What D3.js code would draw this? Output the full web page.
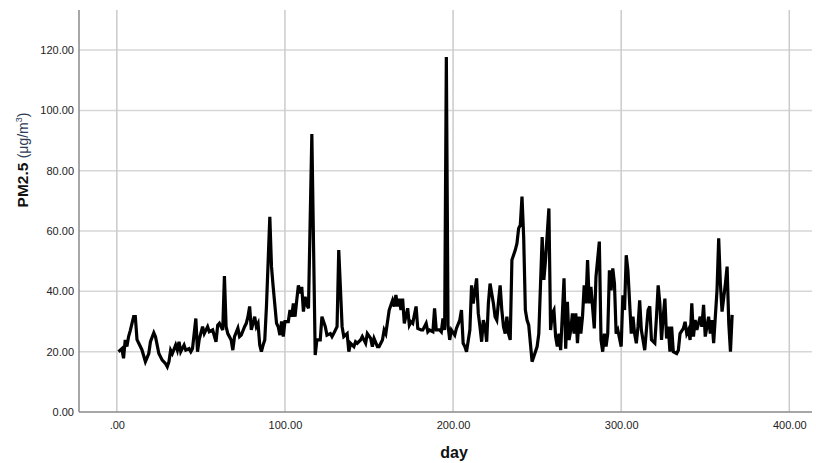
<!DOCTYPE html>
<html>
<head>
<meta charset="utf-8">
<script src="https://cdn.jsdelivr.net/npm/d3@7"></script>
<style>
    body { margin: 0; background: #fff; }
    svg { display: block; font-family: "Liberation Sans", Arial, sans-serif; }
    .grid-lines line { stroke: #d6d6d6; stroke-width: 1.5; }
    .grid-lines-x line { stroke: #cbcbcb; stroke-width: 1.5; }
    .axis path, .axis line { stroke: #8a8a8a; stroke-width: 1.5; }
    .axis text { font-size: 11px; fill: #222; }
    .pm-line { fill: none; stroke: #000; stroke-width: 3.2; stroke-linejoin: miter; }
    .title-text { font-weight: bold; fill: #111; }
</style>
</head>
<body>
<svg id="svg"></svg>
<script>
// values, day -> PM2.5
const days = [
    1, 2, 3, 4, 5, 6, 7, 8, 10, 11, 12, 14, 15, 17, 19, 20, 22, 23, 25, 27,
    29, 30, 31, 32, 33, 35, 36, 37, 38, 40, 41, 43, 44, 45, 47, 48, 49, 51, 52, 54,
    55, 57, 59, 60, 61, 63, 64, 65, 66, 68, 69, 70, 72, 73, 74, 76, 77, 78, 79, 80,
    82, 83, 84, 85, 86, 87, 88, 89, 91, 92, 93, 95, 96, 97, 98, 99, 100, 102, 103, 104,
    105, 106, 107, 108, 109, 110, 111, 112, 113, 114, 116, 118, 119, 121, 122, 124, 125, 127, 128, 129,
    131, 132, 134, 135, 137, 138, 139, 141, 142, 143, 145, 146, 148, 149, 151, 152, 153, 155, 156, 158,
    159, 160, 162, 164, 165, 166, 167, 168, 169, 170, 171, 173, 174, 175, 176, 178, 179, 181, 182, 184,
    185, 186, 188, 189, 190, 192, 193, 194, 195, 196, 197, 198, 199, 201, 202, 204, 205, 206, 207, 208,
    210, 211, 212, 214, 215, 216, 217, 218, 219, 220, 221, 222, 223, 224, 225, 226, 227, 228, 229, 230,
    231, 232, 233, 234, 235, 237, 238, 239, 240, 241, 242, 243, 244, 245, 247, 248, 250, 251, 253, 254,
    255, 257, 258, 259, 260, 261, 262, 263, 264, 266, 267, 268, 269, 270, 271, 272, 273, 274, 275, 276,
    277, 278, 279, 280, 281, 282, 284, 285, 287, 288, 289, 290, 291, 292, 293, 294, 295, 296, 297, 298,
    300, 301, 302, 303, 304, 306, 307, 308, 309, 310, 311, 312, 314, 315, 316, 317, 318, 320, 321, 322,
    323, 324, 325, 326, 327, 328, 329, 330, 331, 333, 334, 335, 337, 338, 339, 340, 341, 342, 343, 344,
    345, 347, 348, 349, 350, 351, 352, 353, 354, 355, 356, 357, 358, 359, 360, 362, 363, 364, 365, 366
];
const pm25 = [
    20, 20.5, 21, 17.8, 23.9, 21.7, 25, 27, 31.6, 31.6, 24, 21.7, 20.5, 16.7, 19.4, 23.3, 26.3, 25, 19.4, 17.2,
    16, 15, 16.7, 20.5, 19.4, 22.2, 20.5, 23.3, 20, 22.2, 20.5, 21, 20, 21, 31, 20, 24, 28.3, 26, 28.3,
    26.6, 27.2, 23.3, 28.8, 29.4, 27.2, 45.1, 28.3, 26, 23.9, 20.5, 25, 27.8, 25, 25.5, 28.3, 29.4, 31.6, 35, 27.2,
    31.6, 28.3, 29.4, 22.2, 20, 22.2, 23.9, 35, 64.7, 48.2, 41.5, 29.4, 28.3, 25.5, 30, 25, 30, 30, 33.8, 31.6,
    36, 31.6, 37, 42, 39.3, 41.5, 33.3, 38.2, 35.5, 34.4, 92.2, 18.9, 23.9, 23.9, 31.6, 28.3, 25.5, 26, 25, 26,
    28.3, 53.7, 28.3, 25, 26, 20, 22.8, 21.7, 23.3, 22.8, 23.9, 25, 22.8, 26, 24.4, 21.7, 24.4, 21.7, 21.7, 23.9,
    27.2, 26, 33.8, 37, 35, 38.8, 35, 37.6, 33.8, 37.6, 29.4, 34.4, 28.8, 29.9, 29.4, 35, 27.7, 27.2, 27.2, 29.4,
    26.6, 27.2, 26.6, 34.4, 27.2, 27.2, 26.6, 31, 27.2, 117.7, 28.8, 23.9, 27.2, 25.5, 27.7, 30.5, 33.8, 22.8, 21.7, 20,
    27.2, 42, 36, 44.3, 32.7, 28.3, 23.3, 30.5, 28.3, 23.3, 36, 42.6, 39.3, 36, 31.6, 30.5, 36.5, 42, 33.8, 28.3,
    26, 31.6, 26, 23.9, 50.4, 53.7, 55.9, 60.9, 62, 71.4, 58, 33.8, 30.5, 28.8, 16.7, 18.3, 21.7, 26, 58, 43.8,
    50.4, 67.5, 27.2, 32.7, 33.8, 25, 21.7, 26, 20.5, 44.3, 21, 36.5, 23.9, 27.2, 32.7, 26, 32.7, 22.8, 31.6, 26,
    31.6, 42, 36, 50.4, 36, 41.5, 27.7, 44.8, 56.5, 23.9, 20, 26, 21.7, 26, 47, 40.3, 47.6, 42.6, 26, 27.2,
    21.7, 38.7, 33.8, 52, 47, 26, 31.6, 26, 22.8, 28.3, 37, 27.2, 20.5, 27.2, 33.8, 35, 23.9, 22.8, 31.6, 42,
    36, 23.9, 31.6, 37.6, 24.4, 28.3, 20, 28.3, 20, 19.4, 20.5, 26, 27.7, 29.9, 26, 27.2, 23.9, 36, 25, 30.5,
    27.2, 31.6, 28.3, 35.5, 25, 28.3, 31.6, 26, 30.5, 22.8, 31.6, 40.3, 57.6, 42.6, 33.3, 42.6, 48.2, 29.4, 20, 32.2
];

const xTicks = [0, 100, 200, 300, 400];
const xTickLabels = ['.00', '100.00', '200.00', '300.00', '400.00'];
const yTicks = [0, 20, 40, 60, 80, 100, 120];
const yTickLabels = ['0.00', '20.00', '40.00', '60.00', '80.00', '100.00', '120.00'];

const width = 816, height = 463;
const margin = {top: 10, left: 79, right: 4, bottom: 51};
const w = width - margin.left - margin.right;
const h = height - margin.top - margin.bottom;

const svg = d3.select('#svg')
    .attr('width', width)
    .attr('height', height);

const g = svg.append('g')
    .attr('transform', 'translate(' + margin.left + ',' + margin.top + ')');

const xScale = d3.scaleLinear()
    .domain([-22.5, 413.5])
    .range([0, w]);
const yScale = d3.scaleLinear()
    .domain([0, 133.3])
    .range([h, 0]);

// grid lines
g.append('g')
    .attr('class', 'grid-lines')
    .selectAll('line')
    .data(yTicks.filter(d => d > 0))
    .enter().append('line')
    .attr('x1', 0)
    .attr('x2', w)
    .attr('y1', d => yScale(d))
    .attr('y2', d => yScale(d));

g.append('g')
    .attr('class', 'grid-lines-x')
    .selectAll('line')
    .data(xTicks)
    .enter().append('line')
    .attr('x1', d => xScale(d))
    .attr('x2', d => xScale(d))
    .attr('y1', 0)
    .attr('y2', h);

// axes
const xAxis = d3.axisBottom(xScale)
    .tickValues(xTicks)
    .tickSize(0)
    .tickPadding(9)
    .tickFormat((d, i) => xTickLabels[i]);
g.append('g')
    .attr('class', 'axis axis-x')
    .attr('transform', 'translate(0,' + h + ')')
    .call(xAxis)
    .call(a => a.select('.domain').attr('d', 'M0,0H' + w));

const yAxis = d3.axisLeft(yScale)
    .tickValues(yTicks)
    .tickSize(0)
    .tickPadding(5)
    .tickFormat((d, i) => yTickLabels[i]);
g.append('g')
    .attr('class', 'axis axis-y')
    .call(yAxis)
    .call(a => a.select('.domain').attr('d', 'M0,0V' + h));

// the series
const line = d3.line()
    .x(d => xScale(d[0]))
    .y(d => yScale(d[1]));

g.append('path')
    .datum(days.map((d, i) => [d, pm25[i]]))
    .attr('class', 'pm-line')
    .attr('d', line);

// titles
svg.append('text')
    .attr('class', 'title-text')
    .attr('x', 454)
    .attr('y', 458)
    .attr('text-anchor', 'middle')
    .style('font-size', '16px')
    .text('day');

const yTitle = svg.append('text')
    .attr('transform', 'translate(28,160) rotate(-90)')
    .attr('text-anchor', 'middle');
yTitle.append('tspan')
    .attr('class', 'title-text')
    .style('font-size', '15.5px')
    .text('PM2.5 ');
yTitle.append('tspan')
    .style('font-size', '14px')
    .style('fill', '#2d3b55')
    .text('(\u03bcg/m');
yTitle.append('tspan')
    .style('font-size', '9px')
    .style('fill', '#2d3b55')
    .attr('dy', -6)
    .text('3');
yTitle.append('tspan')
    .style('font-size', '14px')
    .style('fill', '#2d3b55')
    .attr('dy', 6)
    .text(')');
</script>
</body>
</html>
